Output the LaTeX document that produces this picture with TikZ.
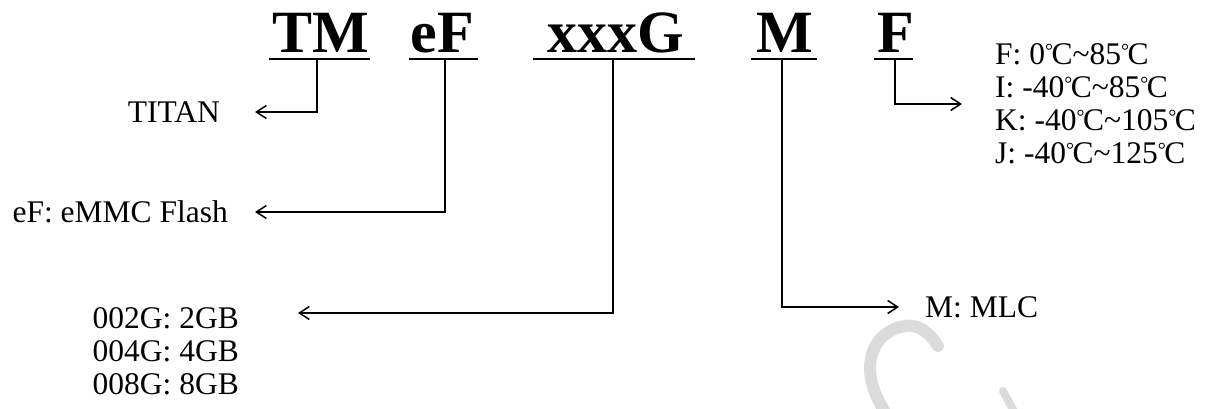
\documentclass[tikz,border=0pt]{standalone}
\usepackage{fontspec}
\setmainfont{Liberation Serif}
\usetikzlibrary{arrows.meta}
% compact degree-Celsius sign built from the text font
\newcommand\degc{\raisebox{7pt}{\fontsize{20}{20}\selectfont °}\kern-1.5pt C}
\begin{document}
\begin{tikzpicture}[x=1pt,y=-1pt,
  code/.style={font=\fontsize{60}{60}\selectfont\bfseries, inner sep=0pt, anchor=base},
  lbl/.style={font=\fontsize{31.5}{33}\selectfont, inner sep=0pt, align=left},
  uline/.style={line width=2.2pt},
  conn/.style={line width=1.5pt, -{Straight Barb[length=10pt,width=13pt]}},
  wm/.style={draw=black!14, line width=12pt, line cap=round}
]
\useasboundingbox (0,0) rectangle (1219,409);

% faint background stroke
\begin{scope}
  \clip (0,0) rectangle (1219,409);
  \draw[wm] (938,346) .. controls (928,330) and (916,324) .. (905,326)
            .. controls (885,329) and (870,345) .. (870,368)
            .. controls (870,385) and (877,400) .. (890,420);
  \draw[wm, line width=8pt] (1003,391) -- (1016,415);
\end{scope}

% part number fields
\node[code] (tm)   at (320.5,53) {TM};
\node[code] (ef)   at (442,53)   {eF};
\node[code] (xxxg) at (616,53)   {xxxG};
\node[code] (m)    at (785,53)   {M};
\node[code] (f)    at (896,53)   {F};

\draw[uline] (269,59) -- (370,59);
\draw[uline] (409,59) -- (478,59);
\draw[uline] (533,59) -- (695,59);
\draw[uline] (751,59) -- (817,59);
\draw[uline] (874,59) -- (913,59);

% field meanings
\node[lbl, anchor=east] (titan) at (220,112) {TITAN};
\node[lbl, anchor=east] (eflbl) at (228,212) {eF: eMMC Flash};
\node[lbl, anchor=north east] (cap) at (239,307) {002G: 2GB\\004G: 4GB\\008G: 8GB};
\node[lbl, anchor=west] (mlc) at (925,307) {M: MLC};
\node[lbl, anchor=west] (temps) at (995,104)
  {F: 0\degc\textasciitilde 85\degc\\
   I: -40\degc\textasciitilde 85\degc\\
   K: -40\degc\textasciitilde 105\degc\\
   J: -40\degc\textasciitilde 125\degc};

% connectors
\draw[conn] ([xshift=-3.5pt,yshift=-6pt]tm.base) |- ([xshift=35pt]titan.east);
\draw[conn] ([xshift=3pt,yshift=-6pt]ef.base) |- ([xshift=27pt]eflbl.east);
\draw[conn] ([xshift=-3pt,yshift=-6pt]xxxg.base) |- ([xshift=59pt,yshift=-6pt]cap.north east);
\draw[conn] ([xshift=-3pt,yshift=-6pt]m.base) |- ([xshift=-26pt]mlc.west);
\draw[conn] ([xshift=-1pt,yshift=-6pt]f.base) |- ([xshift=-33pt]temps.west);
\end{tikzpicture}
\end{document}
